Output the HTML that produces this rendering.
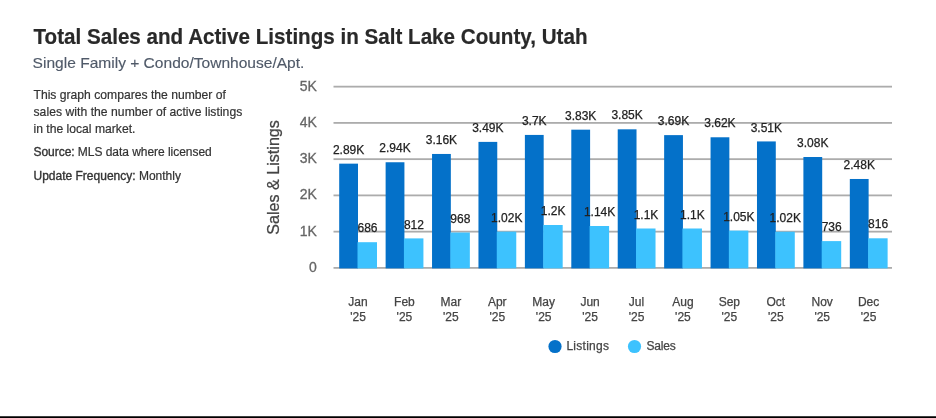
<!DOCTYPE html>
<html><head><meta charset="utf-8"><style>
html,body{margin:0;padding:0;background:#fff;width:936px;height:418px;overflow:hidden}
svg{display:block;will-change:transform}
text{font-family:"Liberation Sans",sans-serif}
.t{font-size:21.8px;font-weight:bold;fill:#292929;stroke:#292929;stroke-width:0.2px}
.st{font-size:15.55px;fill:#505a69;stroke:#505a69;stroke-width:0.15px}
.d{font-size:12.15px;fill:#333;stroke:#333;stroke-width:0.2px}
.d2{font-size:12px;fill:#333;stroke:#333;stroke-width:0.2px}
.md{stroke:#333;stroke-width:0.35px}
.yt{font-size:14px;fill:#666;stroke:#666;stroke-width:0.3px}
.dl{font-size:12px;fill:#222;stroke:#222;stroke-width:0.25px}
.xl{font-size:12px;fill:#444;stroke:#444;stroke-width:0.25px}
.lg{font-size:12px;fill:#444;stroke:#444;stroke-width:0.25px}
.yat{font-size:16.1px;fill:#444;stroke:#444;stroke-width:0.25px}
</style></head><body>
<svg width="936" height="418" viewBox="0 0 936 418">
<rect width="936" height="418" fill="#fff"/>
<text x="33.5" y="43.5" class="t" textLength="554" lengthAdjust="spacingAndGlyphs">Total Sales and Active Listings in Salt Lake County, Utah</text>
<text x="32.6" y="68.3" class="st">Single Family + Condo/Townhouse/Apt.</text>
<text x="33.5" y="98.7" class="d">This graph compares the number of</text>
<text x="33.5" y="116.0" class="d" textLength="208.8" lengthAdjust="spacing">sales with the number of active listings</text>
<text x="33.5" y="133.4" class="d">in the local market.</text>
<text x="33.5" y="156.3" class="d2" textLength="178.2" lengthAdjust="spacing"><tspan class="md">Source:</tspan> MLS data where licensed</text>
<text x="33.5" y="180" class="d2"><tspan class="md">Update Frequency:</tspan> Monthly</text>
<text transform="translate(279.3,177.4) rotate(-90)" x="0" y="0" text-anchor="middle" class="yat">Sales &amp; Listings</text>
<rect x="333.5" y="267.00" width="558.5" height="1.8" fill="#acacac"/>
<text x="316.8" y="271.80" text-anchor="end" class="yt">0</text>
<rect x="333.5" y="230.75" width="558.5" height="1.8" fill="#acacac"/>
<text x="316.8" y="235.55" text-anchor="end" class="yt">1K</text>
<rect x="333.5" y="194.50" width="558.5" height="1.8" fill="#acacac"/>
<text x="316.8" y="199.30" text-anchor="end" class="yt">2K</text>
<rect x="333.5" y="158.25" width="558.5" height="1.8" fill="#acacac"/>
<text x="316.8" y="163.05" text-anchor="end" class="yt">3K</text>
<rect x="333.5" y="122.00" width="558.5" height="1.8" fill="#acacac"/>
<text x="316.8" y="126.80" text-anchor="end" class="yt">4K</text>
<rect x="333.5" y="85.75" width="558.5" height="1.8" fill="#acacac"/>
<text x="316.8" y="90.55" text-anchor="end" class="yt">5K</text>
<rect x="339.20" y="163.65" width="18.8" height="104.75" fill="#0471c9"/>
<rect x="357.50" y="242.20" width="19.5" height="26.20" fill="#3dc2fe"/>
<rect x="385.62" y="162.25" width="18.8" height="106.15" fill="#0471c9"/>
<rect x="403.92" y="238.40" width="19.5" height="30.00" fill="#3dc2fe"/>
<rect x="432.04" y="153.96" width="18.8" height="114.44" fill="#0471c9"/>
<rect x="450.34" y="232.50" width="19.5" height="35.90" fill="#3dc2fe"/>
<rect x="478.46" y="141.89" width="18.8" height="126.51" fill="#0471c9"/>
<rect x="496.76" y="231.60" width="19.5" height="36.80" fill="#3dc2fe"/>
<rect x="524.88" y="134.93" width="18.8" height="133.47" fill="#0471c9"/>
<rect x="543.18" y="225.00" width="19.5" height="43.40" fill="#3dc2fe"/>
<rect x="571.30" y="129.68" width="18.8" height="138.72" fill="#0471c9"/>
<rect x="589.60" y="226.00" width="19.5" height="42.40" fill="#3dc2fe"/>
<rect x="617.72" y="129.32" width="18.8" height="139.08" fill="#0471c9"/>
<rect x="636.02" y="228.50" width="19.5" height="39.90" fill="#3dc2fe"/>
<rect x="664.14" y="135.12" width="18.8" height="133.28" fill="#0471c9"/>
<rect x="682.44" y="228.50" width="19.5" height="39.90" fill="#3dc2fe"/>
<rect x="710.56" y="137.28" width="18.8" height="131.12" fill="#0471c9"/>
<rect x="728.86" y="230.60" width="19.5" height="37.80" fill="#3dc2fe"/>
<rect x="756.98" y="141.43" width="18.8" height="126.97" fill="#0471c9"/>
<rect x="775.28" y="231.70" width="19.5" height="36.70" fill="#3dc2fe"/>
<rect x="803.40" y="157.01" width="18.8" height="111.39" fill="#0471c9"/>
<rect x="821.70" y="241.10" width="19.5" height="27.30" fill="#3dc2fe"/>
<rect x="849.82" y="178.98" width="18.8" height="89.42" fill="#0471c9"/>
<rect x="868.12" y="238.30" width="19.5" height="30.10" fill="#3dc2fe"/>
<text x="348.60" y="153.75" text-anchor="middle" class="dl">2.89K</text>
<text x="367.50" y="232.30" text-anchor="middle" class="dl">686</text>
<text x="358.00" y="305.7" text-anchor="middle" class="xl">Jan</text>
<text x="358.00" y="320.7" text-anchor="middle" class="xl">'25</text>
<text x="395.02" y="152.35" text-anchor="middle" class="dl">2.94K</text>
<text x="413.92" y="228.50" text-anchor="middle" class="dl">812</text>
<text x="404.42" y="305.7" text-anchor="middle" class="xl">Feb</text>
<text x="404.42" y="320.7" text-anchor="middle" class="xl">'25</text>
<text x="441.44" y="144.06" text-anchor="middle" class="dl">3.16K</text>
<text x="460.34" y="222.60" text-anchor="middle" class="dl">968</text>
<text x="450.84" y="305.7" text-anchor="middle" class="xl">Mar</text>
<text x="450.84" y="320.7" text-anchor="middle" class="xl">'25</text>
<text x="487.86" y="131.99" text-anchor="middle" class="dl">3.49K</text>
<text x="506.76" y="221.70" text-anchor="middle" class="dl">1.02K</text>
<text x="497.26" y="305.7" text-anchor="middle" class="xl">Apr</text>
<text x="497.26" y="320.7" text-anchor="middle" class="xl">'25</text>
<text x="534.28" y="125.03" text-anchor="middle" class="dl">3.7K</text>
<text x="553.18" y="215.10" text-anchor="middle" class="dl">1.2K</text>
<text x="543.68" y="305.7" text-anchor="middle" class="xl">May</text>
<text x="543.68" y="320.7" text-anchor="middle" class="xl">'25</text>
<text x="580.70" y="119.78" text-anchor="middle" class="dl">3.83K</text>
<text x="599.60" y="216.10" text-anchor="middle" class="dl">1.14K</text>
<text x="590.10" y="305.7" text-anchor="middle" class="xl">Jun</text>
<text x="590.10" y="320.7" text-anchor="middle" class="xl">'25</text>
<text x="627.12" y="119.42" text-anchor="middle" class="dl">3.85K</text>
<text x="646.02" y="218.60" text-anchor="middle" class="dl">1.1K</text>
<text x="636.52" y="305.7" text-anchor="middle" class="xl">Jul</text>
<text x="636.52" y="320.7" text-anchor="middle" class="xl">'25</text>
<text x="673.54" y="125.22" text-anchor="middle" class="dl">3.69K</text>
<text x="692.44" y="218.60" text-anchor="middle" class="dl">1.1K</text>
<text x="682.94" y="305.7" text-anchor="middle" class="xl">Aug</text>
<text x="682.94" y="320.7" text-anchor="middle" class="xl">'25</text>
<text x="719.96" y="127.38" text-anchor="middle" class="dl">3.62K</text>
<text x="738.86" y="220.70" text-anchor="middle" class="dl">1.05K</text>
<text x="729.36" y="305.7" text-anchor="middle" class="xl">Sep</text>
<text x="729.36" y="320.7" text-anchor="middle" class="xl">'25</text>
<text x="766.38" y="131.53" text-anchor="middle" class="dl">3.51K</text>
<text x="785.28" y="221.80" text-anchor="middle" class="dl">1.02K</text>
<text x="775.78" y="305.7" text-anchor="middle" class="xl">Oct</text>
<text x="775.78" y="320.7" text-anchor="middle" class="xl">'25</text>
<text x="812.80" y="147.11" text-anchor="middle" class="dl">3.08K</text>
<text x="831.70" y="231.20" text-anchor="middle" class="dl">736</text>
<text x="822.20" y="305.7" text-anchor="middle" class="xl">Nov</text>
<text x="822.20" y="320.7" text-anchor="middle" class="xl">'25</text>
<text x="859.22" y="169.08" text-anchor="middle" class="dl">2.48K</text>
<text x="878.12" y="228.40" text-anchor="middle" class="dl">816</text>
<text x="868.62" y="305.7" text-anchor="middle" class="xl">Dec</text>
<text x="868.62" y="320.7" text-anchor="middle" class="xl">'25</text>
<circle cx="555" cy="346.5" r="6.6" fill="#0471c9"/>
<text x="566.4" y="349.7" class="lg" textLength="42.6" lengthAdjust="spacing">Listings</text>
<circle cx="634.5" cy="346.5" r="6.6" fill="#3dc2fe"/>
<text x="646.5" y="349.7" class="lg" textLength="29.3" lengthAdjust="spacing">Sales</text>
<rect x="0" y="416" width="936" height="1" fill="#404040"/>
<rect x="0" y="417" width="936" height="1" fill="#000"/>
</svg>
</body></html>
